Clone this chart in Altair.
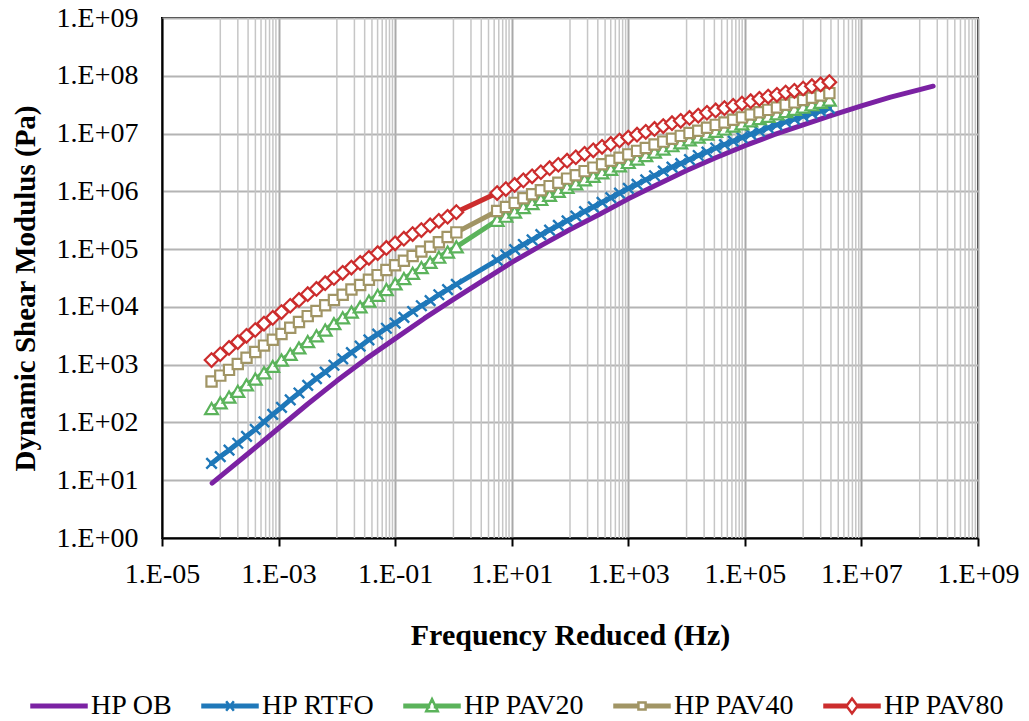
import altair as alt
import pandas as pd

# ---------------- data (log10 values) ----------------
series_names = ["HP OB", "HP RTFO", "HP PAV20", "HP PAV40", "HP PAV80"]
series_colors = ["#7b22a3", "#1f78b9", "#5bb35b", "#a19565", "#cc2d2d"]

# HP OB (line only)
ob_log_f = [-4.14, -3.5, -3.0, -2.5, -2.0, -1.5, -1.0, -0.5, 0.0, 0.5, 1.0, 1.5, 2.0,
            2.5, 3.0, 3.5, 4.0, 4.5, 5.0, 5.5, 6.0, 6.5, 7.0, 7.5, 8.0, 8.23]
ob_log_g = [0.95, 1.48, 1.90, 2.32, 2.72, 3.10, 3.45, 3.80, 4.13, 4.45, 4.77, 5.06, 5.34,
            5.60, 5.87, 6.12, 6.36, 6.58, 6.79, 6.98, 7.15, 7.32, 7.48, 7.63, 7.76, 7.82]

# shared reduced frequencies of the marker series (two groups of sweeps)
seg_a_log_f = [-4.15, -4.00, -3.85, -3.70, -3.55, -3.40, -3.25, -3.10, -2.95, -2.80,
               -2.65, -2.50, -2.35, -2.20, -2.05, -1.90, -1.75, -1.60, -1.45, -1.30,
               -1.15, -1.00, -0.85, -0.70, -0.55, -0.40, -0.25, -0.10, 0.05]
seg_b_log_f = [0.75, 0.90, 1.05, 1.20, 1.35, 1.50, 1.65, 1.80, 1.95, 2.10, 2.25, 2.40,
               2.55, 2.70, 2.85, 3.00, 3.15, 3.30, 3.45, 3.60, 3.75, 3.90, 4.05, 4.20,
               4.35, 4.50, 4.65, 4.80, 4.95, 5.10, 5.25, 5.40, 5.55, 5.70, 5.85, 6.00,
               6.15, 6.30, 6.45]

rtfo_log_g = [1.29, 1.41, 1.52, 1.64, 1.76, 1.88, 2.01, 2.14, 2.26, 2.39, 2.51, 2.64,
              2.76, 2.87, 2.99, 3.10, 3.21, 3.32, 3.43, 3.53, 3.63, 3.72, 3.82, 3.92,
              4.02, 4.11, 4.21, 4.30, 4.39,
              4.81, 4.90, 4.99, 5.08, 5.16, 5.25, 5.33, 5.41, 5.49, 5.57, 5.65, 5.73,
              5.81, 5.89, 5.97, 6.05, 6.12, 6.20, 6.27, 6.35, 6.42, 6.48, 6.55, 6.62,
              6.68, 6.75, 6.81, 6.87, 6.93, 6.99, 7.04, 7.10, 7.15, 7.20, 7.25, 7.30,
              7.35, 7.39, 7.44]
pav20_log_g = [2.24, 2.34, 2.44, 2.54, 2.65, 2.75, 2.86, 2.97, 3.08, 3.18, 3.29, 3.40,
               3.50, 3.60, 3.71, 3.81, 3.91, 4.00, 4.10, 4.20, 4.30, 4.40, 4.49, 4.58,
               4.68, 4.77, 4.86, 4.95, 5.04,
               5.50, 5.57, 5.64, 5.72, 5.79, 5.86, 5.93, 6.00, 6.07, 6.13, 6.20, 6.26,
               6.32, 6.38, 6.44, 6.50, 6.56, 6.62, 6.68, 6.73, 6.79, 6.84, 6.89, 6.94,
               6.99, 7.04, 7.08, 7.13, 7.17, 7.22, 7.26, 7.30, 7.34, 7.38, 7.42, 7.46,
               7.50, 7.54, 7.58]
pav40_log_g = [2.71, 2.81, 2.91, 3.01, 3.12, 3.22, 3.33, 3.43, 3.53, 3.64, 3.74, 3.84,
               3.93, 4.03, 4.12, 4.21, 4.30, 4.38, 4.47, 4.55, 4.64, 4.72, 4.80, 4.88,
               4.96, 5.04, 5.12, 5.21, 5.29,
               5.66, 5.73, 5.80, 5.88, 5.95, 6.02, 6.09, 6.15, 6.22, 6.28, 6.35, 6.41,
               6.47, 6.53, 6.58, 6.64, 6.70, 6.75, 6.81, 6.86, 6.91, 6.96, 7.01, 7.05,
               7.10, 7.15, 7.19, 7.24, 7.28, 7.33, 7.37, 7.41, 7.45, 7.50, 7.54, 7.58,
               7.62, 7.66, 7.70]
pav80_log_g = [3.08, 3.18, 3.29, 3.39, 3.50, 3.60, 3.71, 3.81, 3.91, 4.02, 4.12, 4.22,
               4.31, 4.41, 4.50, 4.59, 4.68, 4.76, 4.85, 4.93, 5.02, 5.10, 5.18, 5.26,
               5.33, 5.41, 5.49, 5.56, 5.64,
               5.97, 6.04, 6.11, 6.19, 6.26, 6.33, 6.40, 6.46, 6.53, 6.59, 6.65, 6.71,
               6.77, 6.82, 6.88, 6.93, 6.98, 7.03, 7.08, 7.13, 7.18, 7.22, 7.27, 7.31,
               7.36, 7.40, 7.44, 7.48, 7.52, 7.56, 7.60, 7.64, 7.67, 7.71, 7.74, 7.78,
               7.82, 7.85, 7.89]

x_major_exp = [-5, -3, -1, 1, 3, 5, 7, 9]
x_minor_exp = [-4, -2, 0, 2, 4, 6, 8]
x_minor_mult = [1, 2, 3, 4, 5, 6, 7, 8, 9]
y_major_exp = [0, 1, 2, 3, 4, 5, 6, 7, 8, 9]

# ---------------- tables ----------------
rows = []
for lf, lg in zip(ob_log_f, ob_log_g):
    rows.append({"series": "HP OB", "f": 10 ** lf, "g": 10 ** lg})
marker_f = seg_a_log_f + seg_b_log_f
for name, vals in [("HP RTFO", rtfo_log_g), ("HP PAV20", pav20_log_g),
                   ("HP PAV40", pav40_log_g), ("HP PAV80", pav80_log_g)]:
    for lf, lg in zip(marker_f, vals):
        rows.append({"series": name, "f": 10 ** lf, "g": 10 ** lg})
df = pd.DataFrame(rows)

minor_df = pd.DataFrame({"v": [m * 10 ** e for e in x_minor_exp for m in x_minor_mult]})
legend_df = pd.DataFrame({"series": series_names})

FONT = "Liberation Serif"
W, H = 816, 520

xscale = alt.Scale(type="log", domain=[1e-5, 1e9], nice=False)
yscale = alt.Scale(type="log", domain=[1, 1e9], nice=False)

label_expr = ("'1.E' + (datum.value < 1 ? '-' : '+') + "
              "(abs(round(log(datum.value) / LN10)) < 10 ? '0' : '') + "
              "abs(round(log(datum.value) / LN10))")

x_axis = alt.Axis(
    values=[10.0 ** e for e in x_major_exp], labelExpr=label_expr,
    title="Frequency Reduced (Hz)", grid=True, gridColor="#a9a9a9", gridWidth=2,
    ticks=True, tickSize=8, tickWidth=2, tickColor="black",
    domain=True, domainColor="black", domainWidth=2,
    labelFont=FONT, labelFontSize=28, labelColor="black", labelPadding=14,
    labelFlush=False, labelOverlap=False,
    titleFont=FONT, titleFontSize=30, titleFontWeight="bold", titleColor="black",
    titleX=W / 2, titleY=97, titleBaseline="middle", titleAlign="center",
)
y_axis = alt.Axis(
    values=[10.0 ** e for e in y_major_exp], labelExpr=label_expr,
    title="Dynamic Shear Modulus (Pa)", grid=True, gridColor="#b4b4b4", gridWidth=2,
    ticks=False, domain=True, domainColor="black", domainWidth=2,
    labelFont=FONT, labelFontSize=28, labelColor="black", labelPadding=24,
    labelFlush=False, labelOverlap=False,
    titleFont=FONT, titleFontSize=29, titleFontWeight="bold", titleColor="black",
    titleX=-137, titleY=270, titleAngle=270, titleBaseline="middle", titleAlign="center",
)

X = alt.X("f:Q", scale=xscale, axis=x_axis)
Y = alt.Y("g:Q", scale=yscale, axis=y_axis)

grid_minor = alt.Chart(minor_df).mark_rule(color="#c6c6c6", strokeWidth=1.5).encode(
    x=alt.X("v:Q", scale=xscale, axis=x_axis), y=alt.value(0), y2=alt.value(H)
)

base = alt.Chart(df)


def line_layer(name, color):
    return base.transform_filter(alt.datum.series == name).mark_line(
        color=color, strokeWidth=5, strokeCap="round", strokeJoin="round", clip=True
    ).encode(x=X, y=Y)


x_path = "M-1,-1L1,1M-1,1L1,-1"


def point_layer(name, color, shape, size, filled=True):
    if filled:
        mk = base.mark_point(shape=shape, size=size, filled=True, fill="white",
                             stroke=color, strokeWidth=2.2, opacity=1)
    else:
        mk = base.mark_point(shape=shape, size=size, filled=False, color=color,
                             strokeWidth=2.4, opacity=1)
    return mk.transform_filter(alt.datum.series == name).encode(x=X, y=Y)


bar = "M-1,-0.045L{a},-0.045L{a},0.045L-1,0.045Z M{b},-0.045L1,-0.045L1,0.045L{b},0.045Z"
legend_paths = [
    "M-1,-0.045L1,-0.045L1,0.045L-1,0.045Z",
    "M-1,-0.045L1,-0.045L1,0.045L-1,0.045Z M-0.14,-0.17L0.14,0.17M-0.14,0.17L0.14,-0.17",
    bar.format(a=-0.11, b=0.11) + " M0,-0.25L0.21,0.19L-0.21,0.19Z",
    bar.format(a=-0.13, b=0.13) + " M-0.13,-0.13L0.13,-0.13L0.13,0.13L-0.13,0.13Z",
    bar.format(a=-0.2, b=0.2) + " M0,-0.27L0.2,0L0,0.27L-0.2,0Z",
]

leg = alt.Legend(
    title=None, orient="none", legendX=-132, legendY=659, direction="horizontal",
    symbolSize=3025, symbolStrokeWidth=2.5, symbolFillColor="white",
    labelFont=FONT, labelFontSize=28, labelColor="black", labelOffset=3,
    columnPadding=24, padding=0, labelLimit=300,
)

legend_layer = alt.Chart(legend_df).transform_filter("false").mark_point(
    filled=True, fill="white", strokeWidth=2.5, opacity=1
).encode(
    stroke=alt.Stroke("series:N", scale=alt.Scale(domain=series_names, range=series_colors),
                      legend=leg),
    shape=alt.Shape("series:N", scale=alt.Scale(domain=series_names, range=legend_paths),
                    legend=leg),
)

chart = alt.layer(
    grid_minor,
    line_layer("HP OB", series_colors[0]),
    line_layer("HP RTFO", series_colors[1]),
    point_layer("HP RTFO", series_colors[1], x_path, 110, filled=False),
    line_layer("HP PAV20", series_colors[2]),
    point_layer("HP PAV20", series_colors[2], "triangle-up", 165),
    line_layer("HP PAV40", series_colors[3]),
    point_layer("HP PAV40", series_colors[3], "square", 105),
    line_layer("HP PAV80", series_colors[4]),
    point_layer("HP PAV80", series_colors[4], "diamond", 185),
    legend_layer,
).properties(
    width=W, height=H,
    padding={"left": 162, "top": 18, "right": 51, "bottom": 183},
    autosize=alt.AutoSizeParams(type="none"),
    background="white",
).configure_view(
    stroke="black", strokeWidth=2
).configure_axis(
    labelFont=FONT, titleFont=FONT
).configure_legend(
    labelFont=FONT
).configure_text(
    font=FONT
)

chart.save("out.html", embed_options={"renderer": "svg", "actions": False})
